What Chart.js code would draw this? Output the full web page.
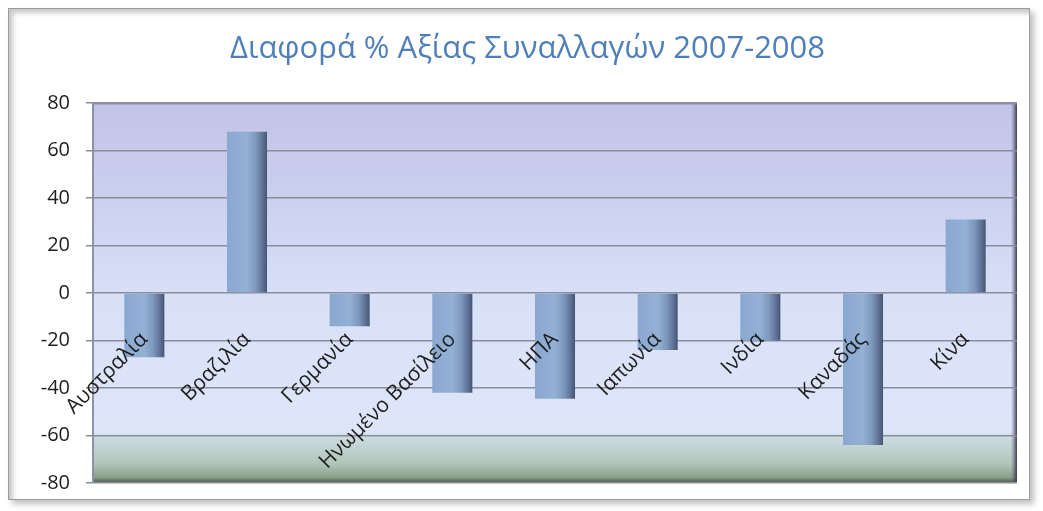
<!DOCTYPE html>
<html>
<head>
<meta charset="utf-8">
<script src="https://cdn.jsdelivr.net/npm/chart.js@4/dist/chart.umd.min.js"></script>
<style>
  html, body { margin: 0; padding: 0; background: #ffffff; }
  #wrap { position: relative; width: 1043px; height: 511px; overflow: hidden; }
  #frame {
    position: absolute; left: 8px; top: 8px; width: 1020px; height: 490px;
    border: 1px solid #9c9c9c; background: #ffffff;
    box-shadow: inset 4px 4px 5px rgba(0,0,0,0.22), 4px 4px 6px rgba(0,0,0,0.25);
  }
  #chart { position: absolute; left: 0; top: 0; }
</style>
</head>
<body>
<div id="wrap">
  <div id="frame"></div>
  <canvas id="chart" width="1043" height="511"></canvas>
</div>
<script>
// Διαφορά % αξίας συναλλαγών ανά χώρα, 2007 -> 2008
const countries = ['Αυστραλία', 'Βραζιλία', 'Γερμανία', 'Ηνωμένο Βασίλειο', 'ΗΠΑ', 'Ιαπωνία', 'Ινδία', 'Καναδάς', 'Κίνα'];
const diffPct = [-27, 68, -14, -42, -44.5, -24, -20, -64, 31];
const yTicks = [80, 60, 40, 20, 0, -20, -40, -60, -80];

const BAR_PCT = 0.39;

// φόντο περιοχής σχεδίασης (διαβάθμιση + σκούρες ακμές δεξιά/κάτω)
const plotBackground = {
    id: 'plotBackground',
    beforeDraw(chart) {
        const { ctx, chartArea: a } = chart;
        const g = ctx.createLinearGradient(0, a.top, 0, a.bottom);
        g.addColorStop(0, '#c3c3e5');
        g.addColorStop(0.25, '#cbd0ef');
        g.addColorStop(0.5, '#d7e0f7');
        g.addColorStop(0.865, '#dde6f9');
        g.addColorStop(0.878, '#cddce2');
        g.addColorStop(0.95, '#b0c4b8');
        g.addColorStop(0.985, '#8aa08a');
        g.addColorStop(1, '#485548');
        ctx.save();
        ctx.fillStyle = g;
        ctx.fillRect(a.left, a.top, a.right - a.left, a.bottom - a.top);
        // δεξί τοίχωμα
        const r = ctx.createLinearGradient(a.right - 6, 0, a.right, 0);
        r.addColorStop(0, 'rgba(90,96,120,0)');
        r.addColorStop(1, 'rgba(50,56,70,0.95)');
        ctx.fillStyle = r;
        ctx.fillRect(a.right - 6, a.top, 6, a.bottom - a.top);
        // πάνω ακμή
        ctx.strokeStyle = '#8c8ca8';
        ctx.lineWidth = 1.5;
        ctx.beginPath();
        ctx.moveTo(a.left, a.top + 0.5);
        ctx.lineTo(a.right, a.top + 0.5);
        ctx.stroke();
        ctx.restore();
    }
};

// κάθε στήλη σκιάζεται οριζόντια σαν κύλινδρος
function barGradient(context) {
    const chart = context.chart;
    const x = chart.scales.x;
    if (!x || !chart.chartArea) return '#8eaad0';
    const cx = x.getPixelForValue(context.dataIndex);
    const w = (x.width / countries.length) * BAR_PCT;
    const g = chart.ctx.createLinearGradient(cx - w / 2, 0, cx + w / 2, 0);
    g.addColorStop(0, '#8aa7cf');
    g.addColorStop(0.5, '#93b0d5');
    g.addColorStop(0.72, '#7e98bd');
    g.addColorStop(0.9, '#5c7093');
    g.addColorStop(1, '#46556f');
    return g;
}

const ctx = document.getElementById('chart').getContext('2d');
new Chart(ctx, {
    type: 'bar',
    data: {
        labels: countries,
        datasets: [{
            label: 'Διαφορά %',
            data: diffPct,
            backgroundColor: barGradient,
            borderWidth: 0,
            barPercentage: BAR_PCT,
            categoryPercentage: 1
        }]
    },
    options: {
        responsive: false,
        animation: false,
        layout: { padding: { left: 38, right: 26, top: 0, bottom: 24 } },
        plugins: {
            legend: { display: false },
            tooltip: { enabled: false },
            title: {
                display: true,
                text: 'Διαφορά % Αξίας Συναλλαγών 2007-2008',
                color: '#4f7fbb',
                font: { family: 'Open Sans', size: 31, weight: 'normal' },
                padding: { top: 31, bottom: 35 }
            }
        },
        scales: {
            x: {
                position: { y: 0 },
                afterFit: (scale) => { scale.height = 0; },
                grid: { display: false },
                border: { display: false },
                ticks: {
                    z: 1,
                    autoSkip: false,
                    minRotation: 45,
                    maxRotation: 45,
                    padding: 26,
                    color: '#1e1e1e',
                    font: { family: 'Open Sans', size: 21 }
                }
            },
            y: {
                min: -80,
                max: 80,
                afterFit: (scale) => { scale.width = 55; },
                afterBuildTicks: (scale) => {
                    scale.ticks = yTicks.map(v => ({ value: v }));
                },
                grid: {
                    color: '#8a8c9c',
                    lineWidth: 1.5,
                    tickLength: 7
                },
                border: { color: '#8d93a6', width: 2 },
                ticks: {
                    padding: 16,
                    color: '#1e1e1e',
                    font: { family: 'Open Sans', size: 20 }
                }
            }
        }
    },
    plugins: [plotBackground]
});
</script>
</body>
</html>
